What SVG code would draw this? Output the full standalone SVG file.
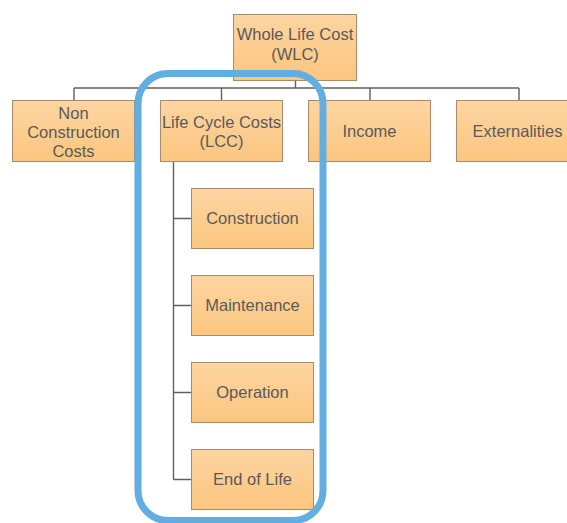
<svg xmlns="http://www.w3.org/2000/svg" width="567" height="523" viewBox="0 0 567 523">
<style>
.box{fill:url(#g);stroke:#A98B6A;stroke-width:1}
.t{font-family:"Liberation Sans",Arial,sans-serif;font-size:16.5px;fill:#5A5A5A;text-anchor:middle}
.c{fill:none;stroke:#606060;stroke-width:1.4}
</style>
<defs>
<linearGradient id="g" x1="0" y1="0" x2="0" y2="1">
<stop offset="0" stop-color="#FDD5A2"/>
<stop offset="1" stop-color="#FBC67F"/>
</linearGradient>
</defs>
<rect width="567" height="523" fill="#fff"/>
<g id="connectors">
<path class="c" d="M295.5 81V88M74 88H519M74 88V100M221.5 88V100M370 88V100M519 88V100"/>
<path class="c" d="M173.5 162V479.5M173.5 218.5H191M173.5 305.5H191M173.5 392.5H191M173.5 479.5H191"/>
</g>
<g id="wlc"><rect class="box" x="233.5" y="14.5" width="123" height="66"/>
<text class="t" x="295" y="40">Whole Life Cost</text><text class="t" x="295" y="59.5">(WLC)</text></g>
<g id="noncon"><rect class="box" x="12.5" y="100.5" width="122" height="61"/>
<text class="t" x="73.5" y="118.5">Non</text><text class="t" x="73.5" y="137.5">Construction</text><text class="t" x="73.5" y="156.5">Costs</text></g>
<g id="lcc"><rect class="box" x="160.5" y="100.5" width="122" height="61"/>
<text class="t" x="221.5" y="127.5">Life Cycle Costs</text><text class="t" x="221.5" y="146.5">(LCC)</text></g>
<g id="income"><rect class="box" x="308.5" y="100.5" width="122" height="61"/>
<text class="t" x="369.5" y="137">Income</text></g>
<g id="ext"><rect class="box" x="456.5" y="100.5" width="122" height="61"/>
<text class="t" x="517.5" y="137">Externalities</text></g>
<g id="construction"><rect class="box" x="191.5" y="188.5" width="122" height="60"/>
<text class="t" x="252.5" y="224">Construction</text></g>
<g id="maintenance"><rect class="box" x="191.5" y="275.5" width="122" height="60"/>
<text class="t" x="252.5" y="311">Maintenance</text></g>
<g id="operation"><rect class="box" x="191.5" y="362.5" width="122" height="60"/>
<text class="t" x="252.5" y="398">Operation</text></g>
<g id="endoflife"><rect class="box" x="191.5" y="449.5" width="122" height="60"/>
<text class="t" x="252.5" y="485">End of Life</text></g>
<g id="highlight"><rect x="138" y="73.5" width="185" height="447" rx="30" ry="30" fill="none" stroke="#62AEE0" stroke-width="7"/></g>
</svg>
